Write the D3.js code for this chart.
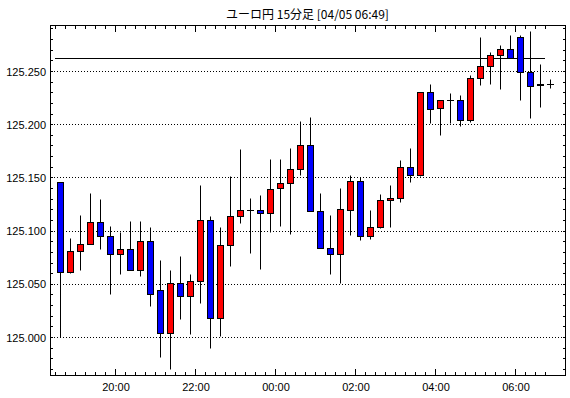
<!DOCTYPE html>
<html><head><meta charset="utf-8">
<script src="https://d3js.org/d3.v7.min.js"></script>
<style>body{margin:0;background:#fff}svg{display:block}</style>
</head><body>
<script>
const title = "ユーロ円 15分足 [04/05 06:49]";
const times = ["18:30","18:45","19:00","19:15","19:30","19:45","20:00","20:15","20:30","20:45",
"21:00","21:15","21:30","21:45","22:00","22:15","22:30","22:45","23:00","23:15",
"23:30","23:45","00:00","00:15","00:30","00:45","01:00","01:15","01:30","01:45",
"02:00","02:15","02:30","02:45","03:00","03:15","03:30","03:45","04:00","04:15",
"04:30","04:45","05:00","05:15","05:30","05:45","06:00","06:15","06:30","06:45"];
const openV = [125.146,125.061,125.081,125.087,125.108,125.095,125.078,125.083,125.063,125.090,
125.044,125.004,125.051,125.039,125.053,125.110,125.018,125.086,125.114,125.119,
125.119,125.117,125.140,125.145,125.158,125.180,125.118,125.084,125.078,125.119,
125.147,125.095,125.103,125.129,125.131,125.160,125.152,125.230,125.215,125.223,
125.223,125.204,125.243,125.255,125.265,125.271,125.282,125.249,125.237,125.238];
const highV = [125.146,125.093,125.115,125.135,125.130,125.104,125.099,125.109,125.109,125.103,
125.072,125.063,125.076,125.059,125.143,125.114,125.103,125.151,125.177,125.131,
125.133,125.167,125.167,125.178,125.203,125.207,125.135,125.115,125.140,125.152,
125.150,125.119,125.134,125.143,125.166,125.178,125.230,125.238,125.223,125.229,
125.227,125.246,125.282,125.268,125.274,125.284,125.284,125.288,125.257,125.242];
const lowV = [125.000,125.060,125.063,125.087,125.083,125.040,125.059,125.063,125.057,125.029,
124.981,124.970,125.017,125.003,125.032,124.990,125.001,125.067,125.107,125.079,
125.064,125.099,125.104,125.097,125.152,125.118,125.084,125.059,125.051,125.096,
125.091,125.092,125.102,125.103,125.127,125.146,125.151,125.201,125.190,125.201,
125.198,125.202,125.237,125.238,125.233,125.262,125.223,125.206,125.216,125.234];
const closeV = [125.061,125.081,125.087,125.108,125.095,125.078,125.083,125.063,125.090,125.040,
125.004,125.051,125.039,125.053,125.110,125.018,125.086,125.114,125.119,125.119,
125.117,125.139,125.145,125.158,125.180,125.118,125.084,125.078,125.120,125.147,
125.095,125.103,125.129,125.131,125.160,125.152,125.230,125.214,125.223,125.223,
125.204,125.243,125.255,125.265,125.271,125.262,125.249,125.236,125.238,125.238];
const yLabels = [125.000,125.050,125.100,125.150,125.200,125.250];
const xLabels = ["20:00","22:00","00:00","02:00","04:00","06:00"];
const refLevel = 125.262;
const refFrom = "18:30", refTo = "06:30";

const W = 570, H = 398;
const L = 50, R = 565, T = 25, B = 375;
const svg = d3.select("body").append("svg").attr("width", W).attr("height", H);

const x = d3.scaleBand().domain(times).range([55, 555]).padding(0);
const y = d3.scaleLinear().domain([124.9643, 125.2932]).range([B, T]);
const py = v => Math.round(y(v)) + 0.5;

// title
svg.append("text").attr("x", (L + R) / 2).attr("y", 19).attr("text-anchor", "middle")
  .attr("font-family", "'Noto Sans CJK JP', sans-serif").attr("font-size", 12).text(title);

// gridlines
svg.append("g").selectAll("line").data(yLabels).join("line")
  .attr("x1", L + 1).attr("x2", R).attr("y1", d => py(d)).attr("y2", d => py(d))
  .attr("stroke", "#000").attr("stroke-dasharray", "1,2");

// y labels
const yAxis = d3.axisLeft(y).tickValues(yLabels).tickSize(0).tickPadding(4).tickFormat(d3.format(".3f"));
const gy = svg.append("g").attr("transform", `translate(${L},0.5)`).call(yAxis);
gy.select(".domain").remove();
gy.selectAll("text").attr("font-family", "'Liberation Sans', Arial, sans-serif").attr("font-size", 11).attr("fill", "#000");

// y minor ticks (inward on both sides)
const yMinor = d3.range(0, 34).map(k => +(124.97 + k * 0.01).toFixed(2)).filter(v => y(v) > T + 1 && y(v) < B - 1);
const gyl = svg.append("g").attr("transform", `translate(${L},0)`)
  .call(d3.axisRight(y).tickValues(yMinor).tickSize(3).tickFormat(""));
gyl.select(".domain").remove();
gyl.selectAll(".tick").attr("transform", d => `translate(0,${py(d)})`);
const gyr = svg.append("g").attr("transform", `translate(${R},0)`)
  .call(d3.axisLeft(y).tickValues(yMinor).tickSize(3).tickFormat(""));
gyr.select(".domain").remove();
gyr.selectAll(".tick").attr("transform", d => `translate(1,${py(d)})`);

// x ticks
const xt = times.map(t => ({t, major: xLabels.includes(t)}));
const tickG = svg.append("g");
tickG.selectAll("line.b").data(xt).join("line").attr("class", "b")
  .attr("x1", d => x(d.t) + 0.5).attr("x2", d => x(d.t) + 0.5)
  .attr("y1", B).attr("y2", d => B - (d.major ? 6 : 3)).attr("stroke", "#000");
tickG.selectAll("line.t").data(xt).join("line").attr("class", "t")
  .attr("x1", d => x(d.t) + 0.5).attr("x2", d => x(d.t) + 0.5)
  .attr("y1", T + 1).attr("y2", d => T + 1 + (d.major ? 6 : 3)).attr("stroke", "#000");
// x labels
svg.append("g").selectAll("text").data(xLabels).join("text")
  .attr("x", d => x(d) + 1).attr("y", 391).attr("text-anchor", "middle")
  .attr("font-family", "'Liberation Sans', Arial, sans-serif").attr("font-size", 11).text(d => d);

// reference line
svg.append("line").attr("x1", x(refFrom)).attr("x2", x(refTo) + x.bandwidth())
  .attr("y1", py(refLevel)).attr("y2", py(refLevel)).attr("stroke", "#000");

// candles
const data = times.map((t, i) => ({t, o: openV[i], h: highV[i], l: lowV[i], c: closeV[i]}));
const cg = svg.append("g").selectAll("g").data(data).join("g");
cg.append("line")
  .attr("x1", d => x(d.t) + 5.5).attr("x2", d => x(d.t) + 5.5)
  .attr("y1", d => py(d.h)).attr("y2", d => py(d.l)).attr("stroke", "#000");
cg.filter(d => Math.round(y(d.o)) !== Math.round(y(d.c))).append("rect")
  .attr("x", d => x(d.t) + 2.5).attr("width", 6)
  .attr("y", d => py(Math.max(d.o, d.c)))
  .attr("height", d => py(Math.min(d.o, d.c)) - py(Math.max(d.o, d.c)))
  .attr("fill", d => d.c > d.o ? "#ff0000" : "#0000ff").attr("stroke", "#000");
cg.filter(d => Math.round(y(d.o)) === Math.round(y(d.c))).append("line")
  .attr("x1", d => x(d.t) + 2).attr("x2", d => x(d.t) + 9)
  .attr("y1", d => py(d.c)).attr("y2", d => py(d.c)).attr("stroke", "#000");

// frame
svg.append("rect").attr("x", L + 0.5).attr("y", T + 0.5).attr("width", R - L).attr("height", B - T)
  .attr("fill", "none").attr("stroke", "#000");
</script>
</body></html>
